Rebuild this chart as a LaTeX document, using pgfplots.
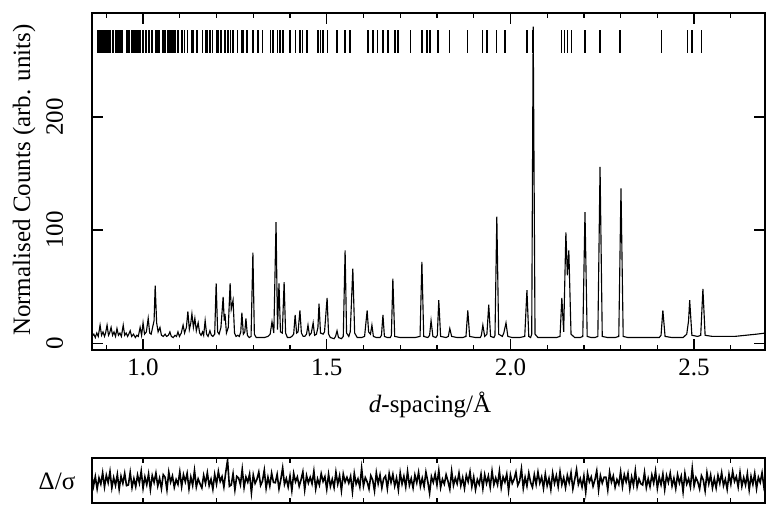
\documentclass[border=0pt]{standalone}
\usepackage{fontspec}
\setmainfont{Liberation Serif}
\usepackage{pgfplots}
\pgfplotsset{compat=1.18}
\begin{document}
\begin{tikzpicture}
\path (0pt,0pt) rectangle (306.4pt,202pt);
\begin{axis}[
 at={(36.8pt,62pt)}, anchor=south west, scale only axis,
 width=269.2pt, height=134.8pt,
 xmin=0.861, xmax=2.693, ymin=-6, ymax=292,
 xtick={1.0,1.5,2.0,2.5}, xticklabels={1.0,1.5,2.0,2.5},
 minor xtick={0.9,1.1,1.2,1.3,1.4,1.6,1.7,1.8,1.9,2.1,2.2,2.3,2.4,2.6},
 ytick={0,100,200}, yticklabels={0,100,200},
 tick align=inside,
 major tick length=4.3pt, minor tick length=2pt,
 axis line style={line width=0.6pt},
 every tick/.append style={black, line width=0.5pt},
 tick label style={font=\fontsize{10}{12}\selectfont},
 yticklabel style={rotate=90, anchor=south},
 yticklabel shift=8pt,
 /pgf/number format/assume math mode=true,
]
\addplot[black, line width=0.45pt] coordinates {
(0.861,6)(0.866,8)(0.870,5)(0.874,9)(0.878,6)(0.883,16)(0.887,7)(0.891,10)(0.895,6)(0.898,9)(0.902,16)(0.906,7)(0.909,9)(0.913,14)(0.917,7)(0.921,10)(0.925,6)(0.929,13)(0.933,7)(0.937,9)(0.941,6)(0.946,16)(0.950,7)(0.954,9)(0.958,6)(0.961,8)(0.965,11)(0.969,6)(0.974,8)(0.979,5)(0.983,7)(0.987,6)(0.992,14)(0.996,7)(1.000,18)(1.004,8)(1.009,10)(1.014,22)(1.018,9)(1.022,8)(1.026,14)(1.030,20)(1.033,51)(1.037,18)(1.041,10)(1.046,14)(1.050,7)(1.055,6)(1.060,8)(1.064,6)(1.069,7)(1.073,10)(1.077,6)(1.082,5)(1.087,7)(1.091,6)(1.095,10)(1.099,6)(1.104,9)(1.109,16)(1.113,9)(1.118,14)(1.122,28)(1.126,12)(1.130,18)(1.133,26)(1.137,14)(1.141,22)(1.145,11)(1.150,18)(1.154,9)(1.158,7)(1.162,10)(1.165,7)(1.169,20)(1.173,8)(1.177,6)(1.182,11)(1.186,7)(1.190,6)(1.195,8)(1.199,53)(1.203,10)(1.207,8)(1.212,14)(1.218,41)(1.221,20)(1.223,26)(1.227,9)(1.232,14)(1.237,53)(1.240,30)(1.245,38)(1.249,9)(1.253,6)(1.258,7)(1.262,6)(1.266,10)(1.269,27)(1.273,8)(1.277,10)(1.280,22)(1.284,7)(1.289,5)(1.294,6)(1.299,80)(1.303,8)(1.308,5)(1.320,5)(1.330,5)(1.340,6)(1.346,8)(1.351,19)(1.356,9)(1.362,107)(1.366,12)(1.370,53)(1.374,10)(1.379,9)(1.384,54)(1.388,9)(1.393,5)(1.400,5)(1.405,6)(1.410,8)(1.414,25)(1.418,9)(1.422,10)(1.427,29)(1.431,9)(1.436,6)(1.440,6)(1.445,8)(1.449,16)(1.453,7)(1.458,9)(1.463,18)(1.467,7)(1.472,8)(1.476,14)(1.479,35)(1.483,9)(1.490,8)(1.494,10)(1.501,40)(1.505,8)(1.510,5)(1.520,4)(1.524,6)(1.528,11)(1.532,5)(1.540,4)(1.545,6)(1.550,82)(1.554,9)(1.560,6)(1.564,10)(1.571,66)(1.576,9)(1.583,5)(1.595,5)(1.603,6)(1.610,29)(1.614,10)(1.619,8)(1.623,16)(1.627,6)(1.635,5)(1.645,5)(1.649,7)(1.653,25)(1.657,6)(1.665,5)(1.673,5)(1.676,7)(1.680,57)(1.685,6)(1.700,5)(1.720,5)(1.740,5)(1.754,6)(1.759,72)(1.764,6)(1.775,5)(1.780,7)(1.784,20)(1.789,6)(1.797,5)(1.801,7)(1.805,38)(1.810,6)(1.825,5)(1.831,6)(1.835,13)(1.840,6)(1.855,5)(1.870,5)(1.879,6)(1.884,29)(1.889,6)(1.905,5)(1.918,5)(1.921,7)(1.925,16)(1.930,6)(1.936,8)(1.941,34)(1.946,6)(1.955,5)(1.958,7)(1.963,112)(1.968,8)(1.978,6)(1.982,9)(1.988,18)(1.993,6)(2.005,5)(2.025,5)(2.039,6)(2.045,47)(2.050,6)(2.055,5)(2.058,8)(2.062,280)(2.067,8)(2.075,5)(2.100,5)(2.125,5)(2.135,6)(2.140,40)(2.145,10)(2.151,98)(2.155,60)(2.159,82)(2.165,8)(2.175,5)(2.190,5)(2.197,6)(2.203,116)(2.209,6)(2.220,5)(2.230,5)(2.238,6)(2.244,156)(2.250,6)(2.265,5)(2.285,5)(2.295,6)(2.301,137)(2.307,6)(2.320,5)(2.350,5)(2.380,5)(2.405,5)(2.410,7)(2.415,29)(2.421,6)(2.440,5)(2.470,5)(2.480,8)(2.485,20)(2.488,38)(2.494,7)(2.510,6)(2.518,7)(2.524,48)(2.530,7)(2.550,6)(2.580,6)(2.610,6)(2.640,7)(2.670,8)(2.695,9)
};
\addplot[black, only marks, mark=|, mark size=4.5pt, mark options={line width=0.5pt}] coordinates {
(0.875,267)(0.879,267)(0.883,267)(0.887,267)(0.891,267)(0.895,267)(0.899,267)(0.903,267)(0.907,267)(0.910,267)(0.916,267)(0.920,267)(0.924,267)(0.928,267)(0.932,267)(0.936,267)(0.940,267)(0.944,267)(0.956,267)(0.960,267)(0.964,267)(0.970,267)(0.974,267)(0.978,267)(0.982,267)(0.986,267)(0.990,267)(0.994,267)(0.998,267)(1.002,267)(1.006,267)(1.010,267)(1.014,267)(1.018,267)(1.022,267)(1.026,267)(1.033,267)(1.037,267)(1.041,267)(1.045,267)(1.052,267)(1.056,267)(1.060,267)(1.068,267)(1.072,267)(1.076,267)(1.080,267)(1.084,267)(1.087,267)
(1.095,267)(1.106,267)(1.112,267)(1.120,267)(1.131,267)(1.136,267)(1.147,267)(1.161,267)(1.169,267)(1.174,267)(1.182,267)(1.190,267)(1.199,267)(1.204,267)(1.212,267)(1.223,267)(1.231,267)(1.239,267)(1.245,267)(1.258,267)(1.267,267)(1.272,267)(1.283,267)(1.299,267)(1.313,267)(1.326,267)(1.346,267)(1.354,267)(1.365,267)(1.373,267)(1.381,267)(1.400,267)(1.414,267)(1.427,267)(1.435,267)(1.446,267)(1.476,267)(1.484,267)(1.490,267)(1.503,267)(1.528,267)(1.550,267)(1.563,267)(1.612,267)(1.626,267)(1.639,267)(1.653,267)(1.667,267)(1.686,267)(1.694,267)(1.727,267)(1.759,267)(1.773,267)(1.781,267)(1.803,267)(1.835,267)(1.884,267)(1.925,267)(1.936,267)(1.963,267)(1.985,267)(2.045,267)(2.061,267)(2.140,267)(2.148,267)(2.156,267)(2.167,267)(2.203,267)(2.244,267)(2.298,267)(2.412,267)(2.483,267)(2.494,267)(2.521,267)
};
\end{axis}
\begin{axis}[
 at={(36.8pt,0.8pt)}, anchor=south west, scale only axis,
 width=269.2pt, height=18pt,
 xmin=0.861, xmax=2.693, ymin=-7, ymax=7,
 xtick={1.0,1.2,1.4,1.6,1.8,2.0,2.2,2.4,2.6}, xticklabels={},
 ytick=\empty,
 tick align=inside, major tick length=2pt,
 axis line style={line width=0.6pt},
 every tick/.append style={black, line width=0.5pt},
]
\addplot[black, line width=0.65pt] coordinates {
(0.860,2.1)(0.865,-1.8)(0.870,1.2)(0.875,-2.6)(0.880,0.8)(0.885,-1.1)(0.890,2.4)(0.895,-2.0)(0.900,1.6)(0.905,-0.7)(0.910,2.8)(0.915,-2.3)(0.920,0.9)(0.925,-1.5)(0.930,1.9)(0.935,-2.7)(0.940,1.3)(0.945,-0.9)(0.950,2.2)(0.955,-1.6)
(0.960,-1.4)(0.965,2.5)(0.970,-2.2)(0.975,0.6)(0.980,-1.9)(0.985,1.7)(0.990,-0.8)(0.995,2.9)(1.000,-2.4)(1.005,1.1)(1.010,-1.3)(1.015,2.0)(1.020,-2.8)(1.025,1.5)(1.030,-0.6)(1.035,2.3)(1.040,-1.7)(1.045,0.7)(1.050,-2.5)(1.055,1.8)
(1.060,1.0)(1.065,-2.9)(1.070,2.6)(1.075,-0.5)(1.080,1.4)(1.085,-2.1)(1.090,0.3)(1.095,-1.2)(1.100,2.7)(1.105,-1.9)(1.110,1.8)(1.115,-0.4)(1.120,2.2)(1.125,-2.6)(1.130,1.1)(1.135,-1.5)(1.140,3.1)(1.145,-2.0)(1.150,0.5)(1.155,-1.0)
(1.160,-2.3)(1.165,1.6)(1.170,-0.9)(1.175,2.4)(1.180,-1.6)(1.185,0.4)(1.190,-2.7)(1.195,1.9)(1.200,-1.1)(1.205,2.8)(1.210,-0.3)(1.215,1.2)(1.220,-2.0)(1.225,2.5)(1.230,6.3)(1.235,-1.8)(1.240,-1.4)(1.245,2.1)(1.250,-2.9)(1.255,1.3)
(1.260,0.8)(1.265,-1.3)(1.270,3.5)(1.275,-2.2)(1.280,1.1)(1.285,-0.5)(1.290,2.0)(1.295,-3.8)(1.300,1.7)(1.305,-0.9)(1.310,0.4)(1.315,2.6)(1.320,-1.5)(1.325,-0.2)(1.330,3.2)(1.335,-2.4)(1.340,1.0)(1.345,-1.7)(1.350,2.3)(1.355,-0.6)
(1.360,-0.7)(1.365,1.9)(1.370,-2.6)(1.375,0.3)(1.380,3.9)(1.385,-1.2)(1.390,0.6)(1.395,-2.0)(1.400,1.4)(1.405,-3.1)(1.410,2.2)(1.415,-0.4)(1.420,1.1)(1.425,-1.8)(1.430,0.2)(1.435,2.7)(1.440,-2.9)(1.445,1.5)(1.450,-0.8)(1.455,1.0)
(1.460,-1.0)(1.465,2.9)(1.470,-2.6)(1.475,0.5)(1.480,-1.4)(1.485,2.1)(1.490,-0.3)(1.495,1.2)(1.500,-2.7)(1.505,1.9)(1.510,-1.8)(1.515,0.4)(1.520,-2.2)(1.525,2.6)(1.530,-1.1)(1.535,1.5)(1.540,-3.1)(1.545,2.0)(1.550,-0.5)(1.555,1.0)
(1.560,-0.8)(1.565,1.3)(1.570,-3.5)(1.575,2.2)(1.580,-1.1)(1.585,0.5)(1.590,-2.0)(1.595,3.8)(1.600,-1.7)(1.605,0.9)(1.610,-0.4)(1.615,-2.6)(1.620,1.5)(1.625,0.2)(1.630,-3.2)(1.635,2.4)(1.640,-1.0)(1.645,1.7)(1.650,-2.3)(1.655,0.6)
(1.660,1.4)(1.665,-2.5)(1.670,2.2)(1.675,-0.6)(1.680,1.9)(1.685,-1.7)(1.690,0.8)(1.695,-2.9)(1.700,2.4)(1.705,-1.1)(1.710,1.3)(1.715,-2.0)(1.720,2.8)(1.725,-1.5)(1.730,0.6)(1.735,-2.3)(1.740,1.7)(1.745,-0.7)(1.750,2.5)(1.755,-1.8)
(1.760,0.7)(1.765,-1.9)(1.770,2.6)(1.775,-0.3)(1.780,-3.9)(1.785,1.2)(1.790,-0.6)(1.795,2.0)(1.800,-1.4)(1.805,3.1)(1.810,-2.2)(1.815,0.4)(1.820,-1.1)(1.825,1.8)(1.830,-0.2)(1.835,-2.7)(1.840,2.9)(1.845,-1.5)(1.850,0.8)(1.855,-1.0)
(1.860,2.3)(1.865,-1.6)(1.870,0.9)(1.875,-2.4)(1.880,1.6)(1.885,-0.4)(1.890,2.7)(1.895,-1.9)(1.900,1.1)(1.905,-2.8)(1.910,0.3)(1.915,-1.2)(1.920,2.0)(1.925,-2.5)(1.930,1.8)(1.935,-0.9)(1.940,1.4)(1.945,-2.1)(1.950,2.9)(1.955,-1.3)
(1.960,0.8)(1.965,-1.3)(1.970,2.9)(1.975,-2.2)(1.980,1.1)(1.985,-0.5)(1.990,2.0)(1.995,-3.1)(2.000,1.7)(2.005,-0.9)(2.010,0.4)(2.015,2.6)(2.020,-1.5)(2.025,-0.2)(2.030,3.6)(2.035,-2.4)(2.040,1.0)(2.045,-1.7)(2.050,2.3)(2.055,-0.6)
(2.060,-2.1)(2.065,1.8)(2.070,-1.2)(2.075,2.6)(2.080,-0.8)(2.085,1.1)(2.090,-2.4)(2.095,2.0)(2.100,-1.6)(2.105,0.7)(2.110,-2.8)(2.115,2.3)(2.120,-0.9)(2.125,1.5)(2.130,-1.9)(2.135,2.7)(2.140,-1.3)(2.145,0.9)(2.150,-2.2)(2.155,1.6)
(2.160,-0.7)(2.165,2.4)(2.170,-2.6)(2.175,0.3)(2.180,3.4)(2.185,-1.2)(2.190,0.6)(2.195,-2.0)(2.200,1.4)(2.205,-3.6)(2.210,2.2)(2.215,-0.4)(2.220,1.1)(2.225,-1.8)(2.230,0.2)(2.235,3.0)(2.240,-2.9)(2.245,1.5)(2.250,-0.8)(2.255,1.0)
(2.260,1.0)(2.265,-2.9)(2.270,2.6)(2.275,-0.5)(2.280,1.4)(2.285,-2.1)(2.290,0.3)(2.295,-1.2)(2.300,2.7)(2.305,-1.9)(2.310,1.8)(2.315,-0.4)(2.320,2.2)(2.325,-2.6)(2.330,1.1)(2.335,-1.5)(2.340,3.1)(2.345,-2.0)(2.350,0.5)(2.355,-1.0)
(2.360,-1.4)(2.365,2.5)(2.370,-2.2)(2.375,0.6)(2.380,-1.9)(2.385,1.7)(2.390,-0.8)(2.395,2.9)(2.400,-2.4)(2.405,1.1)(2.410,-1.3)(2.415,2.0)(2.420,-2.8)(2.425,1.5)(2.430,-0.6)(2.435,2.3)(2.440,-1.7)(2.445,0.7)(2.450,-2.5)(2.455,1.8)
(2.460,-0.8)(2.465,1.3)(2.470,-3.5)(2.475,2.2)(2.480,-1.1)(2.485,0.5)(2.490,-2.0)(2.495,3.8)(2.500,-1.7)(2.505,0.9)(2.510,-0.4)(2.515,-2.6)(2.520,1.5)(2.525,0.2)(2.530,-3.2)(2.535,2.4)(2.540,-1.0)(2.545,1.7)(2.550,-2.3)(2.555,0.6)
(2.560,-2.3)(2.565,1.6)(2.570,-0.9)(2.575,2.4)(2.580,-1.6)(2.585,0.4)(2.590,-2.7)(2.595,1.9)(2.600,-1.1)(2.605,2.8)(2.610,-0.3)(2.615,1.2)(2.620,-2.0)(2.625,2.5)(2.630,-1.8)(2.635,0.9)(2.640,-1.4)(2.645,2.1)(2.650,-2.9)(2.655,1.3)
(2.660,-1.2)(2.665,2.2)(2.670,-2.5)(2.675,1.0)(2.680,-0.6)(2.685,2.4)(2.690,-1.9)(2.695,0.8)
};
\end{axis}
\node[rotate=90, font=\fontsize{10}{12}\selectfont] at (9.6pt,130pt) {Normalised Counts (arb. units)};
\node[font=\fontsize{10}{12}\selectfont] at (172pt,40pt) {\textit{d}-spacing/Å};
\node[font=\fontsize{10}{12}\selectfont] at (22.8pt,9.6pt) {Δ/σ};
\end{tikzpicture}
\end{document}
